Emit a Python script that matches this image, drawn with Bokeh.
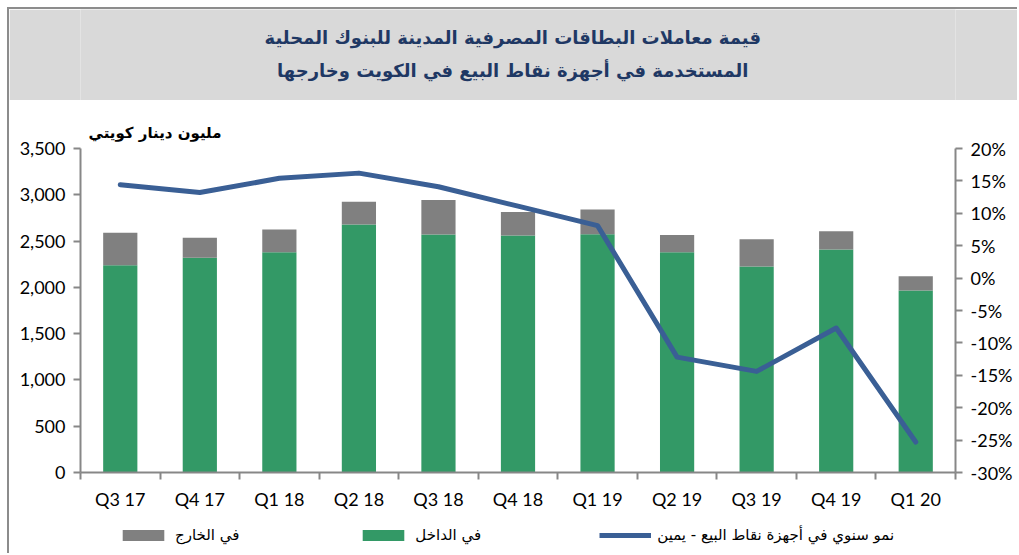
from bokeh.plotting import figure
from bokeh.models import (Range1d, LinearAxis, FixedTicker, NumeralTickFormatter,
                          PrintfTickFormatter, Legend, LegendItem, ColumnDataSource, Title)
from bokeh.layouts import column
from bokeh.core.properties import value
from bokeh.embed import file_html
from bokeh.resources import INLINE

# ---- data ----
quarters = ["Q3 17", "Q4 17", "Q1 18", "Q2 18", "Q3 18", "Q4 18",
            "Q1 19", "Q2 19", "Q3 19", "Q4 19", "Q1 20"]
domestic = [2240, 2320, 2380, 2680, 2570, 2560, 2575, 2380, 2225, 2410, 1965]
abroad = [350, 215, 245, 245, 375, 255, 265, 185, 295, 195, 155]
growth = [14.4, 13.2, 15.4, 16.2, 14.1, 11.1, 8.1, -12.2, -14.4, -7.7, -25.3]
left_ticks = [0, 500, 1000, 1500, 2000, 2500, 3000, 3500]
right_ticks = [-30, -25, -20, -15, -10, -5, 0, 5, 10, 15, 20]

title_lines = ["قيمة معاملات البطاقات المصرفية المدينة للبنوك المحلية",
               "المستخدمة في أجهزة نقاط البيع في الكويت وخارجها"]
unit_label = "مليون دينار كويتي"
lbl_abroad = "في الخارج"
lbl_domestic = "في الداخل"
lbl_growth = "نمو سنوي في أجهزة نقاط البيع - يمين"

GREEN = "#339966"
GREY = "#808080"
BLUE = "#3A5F95"
AXIS = "#878787"
ARABIC_FONT = "DejaVu Sans"
NUM_FONT = "Lato"
NAN = float("nan")

W = 1008

# ---- title figure ----
tf = figure(width=W, height=91, x_range=(0, 1), y_range=(0, 1),
            toolbar_location=None, output_backend="svg",
            x_axis_location=None, y_axis_location=None,
            min_border=0, outline_line_color=None,
            background_fill_color="#D9D9D9", border_fill_color="#D9D9D9")
tf.grid.visible = False
tsrc = ColumnDataSource(dict(x=[0.494, 0.494], y=[0.69, 0.33], t=title_lines))
tf.text("x", "y", text="t", source=tsrc, text_align="center", text_baseline="middle",
        text_font=value(ARABIC_FONT), text_font_style="bold",
        text_font_size="18px", text_color="#1F3864")

# ---- main figure ----
p = figure(width=W, height=415, x_range=Range1d(0, len(quarters)),
           y_range=Range1d(0, 3500), toolbar_location=None, output_backend="svg",
           min_border_left=71, min_border_right=62, min_border_top=48,
           min_border_bottom=43, outline_line_color=None)
p.grid.visible = False

xs = [i + 0.5 for i in range(len(quarters))]
src = ColumnDataSource(dict(x=xs, domestic=domestic, abroad=abroad, growth=growth))
bars = p.vbar_stack(["domestic", "abroad"], x="x", width=0.43,
                    color=[GREEN, GREY], line_color=None, source=src)

p.extra_y_ranges = {"pct": Range1d(-30, 20)}
ln = p.line("x", "growth", source=src, y_range_name="pct", line_width=5,
            color=BLUE, line_cap="round", line_join="round")

# left axis
ya = p.yaxis[0]
ya.ticker = FixedTicker(ticks=left_ticks)
ya.formatter = NumeralTickFormatter(format="0,0")

# right axis
ra = LinearAxis(y_range_name="pct", ticker=FixedTicker(ticks=right_ticks),
                formatter=PrintfTickFormatter(format="%d%%"))
p.add_layout(ra, "right")

for ax in [ya, ra]:
    ax.major_tick_out = 7
    ax.major_tick_in = 0
    ax.minor_tick_line_color = None
    ax.major_label_standoff = 8

# x axis: labels at centres, ticks at boundaries
xa = p.xaxis[0]
xa.ticker = FixedTicker(ticks=xs, minor_ticks=list(range(len(quarters) + 1)))
xa.major_label_overrides = {x: q for x, q in zip(xs, quarters)}
xa.major_tick_line_color = None
xa.minor_tick_out = 7
xa.minor_tick_in = 0
xa.major_label_standoff = 8

for ax in [ya, ra, xa]:
    ax.axis_line_color = AXIS
    ax.axis_line_width = 2
    ax.major_tick_line_width = 2
    ax.minor_tick_line_width = 2
    if ax is xa:
        ax.minor_tick_line_color = AXIS
    else:
        ax.major_tick_line_color = AXIS
    ax.major_label_text_font = NUM_FONT
    ax.major_label_text_font_size = "18px"
    ax.major_label_text_color = "#000000"

p.add_layout(Title(text=unit_label, align="left", offset=8, text_font=ARABIC_FONT,
                   text_font_size="15px", text_font_style="bold",
                   text_color="#000000", standoff=14), "above")

# ---- legend figure (legend proxies hold no drawable points) ----
lf = figure(width=W, height=38, x_range=(0, 1), y_range=(0, 1),
            toolbar_location=None, output_backend="svg",
            x_axis_location=None, y_axis_location=None,
            min_border=0, outline_line_color=None)
lf.grid.visible = False
lg_abroad = lf.vbar(x=[NAN], top=[NAN], width=0.1, color=GREY, line_color=None)
lg_dom = lf.vbar(x=[NAN], top=[NAN], width=0.1, color=GREEN, line_color=None)
lg_line = lf.line(x=[NAN, NAN], y=[NAN, NAN], line_width=5, color=BLUE)

legend = Legend(items=[LegendItem(label=lbl_abroad, renderers=[lg_abroad]),
                       LegendItem(label=lbl_domestic, renderers=[lg_dom]),
                       LegendItem(label=lbl_growth, renderers=[lg_line])],
                orientation="horizontal", location=(37, 9),
                glyph_width=52, glyph_height=14, spacing=118, label_standoff=6,
                padding=3, margin=0, border_line_color=None, background_fill_alpha=0,
                label_text_font=ARABIC_FONT, label_text_font_size="15px",
                label_text_color="#000000")
lf.add_layout(legend)

layout = column(tf, p, lf, styles={"margin-left": "7px", "margin-top": "7px",
                                   "border-left": "2px solid #8C8C8C",
                                   "border-top": "2px solid #8C8C8C"})

open("out.html", "w").write(file_html(layout, INLINE))
